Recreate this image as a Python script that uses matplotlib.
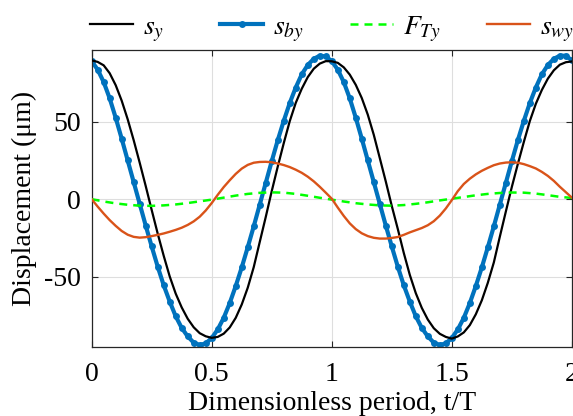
import numpy as np
import matplotlib
matplotlib.use("Agg")
import matplotlib.pyplot as plt

# sampled at every 0.025 of t/T
t_fine = np.linspace(0, 2, 81)
s_y = [89.5, 88.5, 86.3, 81.2, 73.5, 63.5, 51.5, 38.0, 23.5, 8.5,
       -7.0, -22.2, -36.5, -49.8, -60.9, -69.8, -77.1, -82.6, -86.4, -88.4,
       -89.4, -88.8, -86.7, -82.7, -76.5, -67.9, -57.1, -43.8, -27.6, -11.5,
       5.2, 21.0, 36.1, 50.3, 62.1, 71.2, 78.7, 84.1, 87.4, 89.0,
       88.9, 87.9, 85.0, 80.3, 73.7, 65.2, 54.5, 41.5, 26.5, 11.4,
       -4.4, -19.2, -34.7, -48.8, -60.6, -70.1, -77.6, -83.2, -86.8, -88.8,
       -89.9, -88.5, -85.9, -81.2, -74.2, -65.2, -53.9, -40.8, -24.2, -8.0,
       7.9, 22.7, 36.9, 50.4, 61.5, 70.4, 77.7, 83.1, 86.7, 88.3,
       88.8]
s_by = [89.0, 83.5, 75.5, 65.0, 52.5, 39.0, 25.0, 11.0, -3.0, -17.0,
        -30.5, -43.5, -55.5, -66.0, -75.5, -83.0, -88.5, -92.5, -94.0, -93.0,
        -89.5, -84.0, -76.5, -67.0, -56.0, -44.0, -31.0, -17.5, -3.5, 10.5,
        24.5, 38.0, 50.5, 62.0, 72.0, 80.5, 86.5, 90.5, 92.5, 92.0,
        89.0, 83.5, 75.5, 65.0, 52.5, 39.0, 25.0, 11.0, -3.0, -17.0,
        -30.5, -43.5, -55.5, -66.0, -75.5, -83.0, -88.5, -92.5, -94.0, -93.0,
        -89.5, -84.0, -76.5, -67.0, -56.0, -44.0, -31.0, -17.5, -3.5, 10.5,
        24.5, 38.0, 50.5, 62.0, 72.0, 80.5, 86.5, 90.5, 92.5, 92.5,
        89.5]
s_wy = [0.0, -4.8, -9.3, -13.5, -17.2, -20.5, -22.9, -24.3, -24.8, -24.5,
        -23.8, -23.0, -22.1, -21.0, -19.8, -18.4, -16.6, -14.3, -11.3, -7.3,
        -2.5, 2.8, 7.8, 12.2, 16.3, 19.7, 22.1, 23.5, 24.0, 24.1,
        23.8, 23.0, 22.0, 20.7, 19.0, 17.0, 14.5, 11.5, 8.0, 4.2,
        0.3, -5.4, -10.8, -15.6, -19.3, -22.0, -23.8, -24.9, -25.4, -25.4,
        -25.0, -24.4, -23.0, -21.4, -20.0, -18.6, -16.8, -14.2, -10.6, -6.0,
        -0.6, 5.2, 9.8, 13.2, 16.0, 18.3, 20.2, 21.9, 23.0, 23.6,
        23.8, 23.5, 22.6, 21.3, 19.8, 17.6, 15.0, 11.8, 8.0, 4.5,
        1.0]

# sampled at every 0.05 of t/T
t_coarse = np.linspace(0, 2, 41)
F_Ty = [0.0, -1.5, -2.7, -3.6, -4.2, -4.3, -4.0, -3.4, -2.5, -1.4,
        -0.3, 1.0, 2.3, 3.4, 4.1, 4.4, 4.2, 3.4, 2.2, 0.9,
        -0.3, -1.5, -2.6, -3.4, -4.0, -4.2, -3.8, -3.0, -2.0, -0.8,
        0.3, 1.4, 2.5, 3.4, 4.0, 4.3, 4.2, 3.6, 2.6, 1.5,
        0.8]

xticks = [0, 0.5, 1, 1.5, 2]
xtick_labels = ["0", "0.5", "1", "1.5", "2"]
yticks = [-50, 0, 50]

plt.rcParams["font.family"] = ["Liberation Serif", "DejaVu Serif"]
plt.rcParams["mathtext.fontset"] = "stix"
plt.rcParams["axes.unicode_minus"] = False

fig = plt.figure(figsize=(5.73, 4.16), dpi=100)
ax = fig.add_axes([0.160, 0.167, 0.838, 0.714])

l_by, = ax.plot(t_fine, s_by, color="#0072BD", lw=3.0, marker="o", ms=5.0,
                markeredgewidth=0, zorder=2)
l_y, = ax.plot(t_fine, s_y, color="black", lw=1.6, zorder=3)
l_F, = ax.plot(t_coarse, F_Ty, color="#00FF00", lw=1.8, ls=(0, (3.2, 2.4)),
               zorder=4)
l_wy, = ax.plot(t_fine, s_wy, color="#D95319", lw=1.7, zorder=4)

ax.set_xlim(0, 2)
ax.set_ylim(-95, 96.5)
ax.set_xticks(xticks)
ax.set_xticklabels(xtick_labels)
ax.set_yticks(yticks)
ax.grid(True, color="#dedede", lw=0.8)
ax.set_axisbelow(True)
ax.tick_params(direction="in", top=True, right=True, length=4, width=0.8,
               color="#262626", labelsize=20)
ax.tick_params(axis="x", pad=11)
ax.tick_params(axis="y", pad=8)
for sp in ax.spines.values():
    sp.set_color("#262626")
    sp.set_linewidth(0.9)

ax.set_xlabel("Dimensionless period, t/T", fontsize=20, labelpad=3)
ax.set_ylabel("Displacement (μm)", fontsize=20, labelpad=5)

# one legend per entry so each sits where the reference has it
entries = [(l_y, "$s_y$", 0.157), (l_by, "$s_{by}$", 0.384),
           (l_F, "$F_{Ty}$", 0.611), (l_wy, "$s_{wy}$", 0.850)]
for handle, text, x0 in entries:
    fig.legend([handle], [text], loc="center left",
               bbox_to_anchor=(x0, 0.930), frameon=False, fontsize=20,
               handlelength=1.55, handletextpad=0.35, borderpad=0,
               borderaxespad=0)

fig.savefig("out.png", dpi=100)
